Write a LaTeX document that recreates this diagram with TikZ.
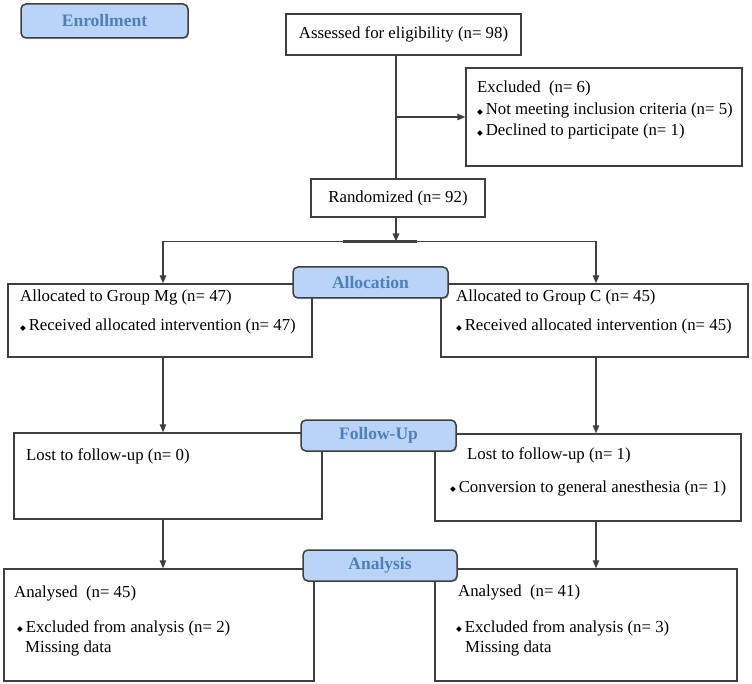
\documentclass[tikz,border=0pt]{standalone}
\usepackage{fontspec}
\setmainfont{Liberation Serif}
\newfontfamily\djv{DejaVu Sans}
\usetikzlibrary{arrows.meta,shadows}
\definecolor{lblfill}{HTML}{B9D4F7}
\definecolor{lbltext}{HTML}{4F7EBC}
\definecolor{edge}{HTML}{3F3F3F}
\newcommand\dmd{{\djv\fontsize{7.5}{7.5}\selectfont\raisebox{0.6pt}{◆}}\,}
\tikzset{
  box/.style={draw=edge, line width=1.4pt, fill=white, inner sep=0pt, font=\fontsize{16.8}{20}\selectfont,
    drop shadow={shadow xshift=1.2pt, shadow yshift=-1.2pt, opacity=0.35}},
  lbl/.style={draw=edge, line width=1.5pt, fill=lblfill, rounded corners=5pt, inner sep=0pt, font=\fontsize{17.5}{17.5}\selectfont\bfseries, text=lbltext,
    drop shadow={shadow xshift=1.2pt, shadow yshift=-1.2pt, opacity=0.35}},
  txt/.style={anchor=base west, inner sep=0pt, font=\fontsize{16.8}{20}\selectfont},
  conn/.style={draw=edge, line width=1.3pt},
  arr/.style={conn, -{Triangle[length=8pt,width=6.5pt]}}
}
\begin{document}
\begin{tikzpicture}[x=1pt,y=-1pt]
\useasboundingbox (0,0) rectangle (752,684);
\clip (0,0) rectangle (752,684);
% boxes
\node[box, minimum width=235pt, minimum height=41pt] (assess) at (403.5,34.5) {Assessed for eligibility (n= 98)};
\node[box, minimum width=276pt, minimum height=98pt] (excl) at (604,117) {};
\node[box, minimum width=174pt, minimum height=38pt] (rand) at (398,198) {Randomized (n= 92)};
\node[box, minimum width=304pt, minimum height=73pt] (mg) at (160,320.5) {};
\node[box, minimum width=307pt, minimum height=73pt] (cg) at (594.5,320.5) {};
\node[box, minimum width=308pt, minimum height=86pt] (ful) at (168,476) {};
\node[box, minimum width=306pt, minimum height=87pt] (fur) at (588,477.5) {};
\node[box, minimum width=310pt, minimum height=112pt] (anl) at (159,625) {};
\node[box, minimum width=302pt, minimum height=112pt] (anr) at (586,625) {};
% texts
\node[txt] (t1) at (477,93) {Excluded\ \ (n= 6)};
\node[txt] (t2) at (477,115) {\dmd Not meeting inclusion criteria (n= 5)};
\node[txt] (t3) at (477,136) {\dmd Declined to participate (n= 1)};
\node[txt] (t4) at (20,302) {Allocated to Group Mg (n= 47)};
\node[txt] (t5) at (20,331) {\dmd Received allocated intervention (n= 47)};
\node[txt] (t6) at (456,302) {Allocated to Group C (n= 45)};
\node[txt] (t7) at (456,331) {\dmd Received allocated intervention (n= 45)};
\node[txt] (t8) at (26,460) {Lost to follow-up (n= 0)};
\node[txt] (t9) at (467,459) {Lost to follow-up (n= 1)};
\node[txt] (t10) at (450,492) {\dmd Conversion to general anesthesia (n= 1)};
\node[txt] (t11) at (14,597) {Analysed\ \ (n= 45)};
\node[txt] (t12) at (17,632) {\dmd Excluded from analysis (n= 2)};
\node[txt] (t13) at (25,652) {Missing data};
\node[txt] (t14) at (458,596) {Analysed\ \ (n= 41)};
\node[txt] (t15) at (456,632) {\dmd Excluded from analysis (n= 3)};
\node[txt] (t16) at (465,652) {Missing data};
% connectors
\coordinate (br) at (396,117);
\coordinate (split) at (396,241.5);
\coordinate (sl) at (163,241.5);
\coordinate (sr) at (596,241.5);
\coordinate (thA) at (343,241.5);
\coordinate (thB) at (417,241.5);
\draw[conn] (assess.south -| br) -- (rand.north -| br);
\draw[arr] (br) -- (br -| excl.west);
\draw[conn] (sl) -- (sr);
\draw[conn, line width=2.1pt] (thA) -- (thB);
\draw[arr] (rand.south -| split) -- (split);
\draw[arr] (sl) -- (sl |- mg.north);
\draw[arr] (sr) -- (sr |- cg.north);
\draw[arr] (mg.south -| sl) -- (sl |- ful.north);
\draw[arr] (cg.south -| sr) -- (sr |- fur.north);
\draw[arr] (ful.south -| sl) -- (sl |- anl.north);
\draw[arr] (fur.south -| sr) -- (sr |- anr.north);
% stage labels
\node[lbl, minimum width=167pt, minimum height=34pt] (enroll) at (104.5,21) {Enrollment};
\node[lbl, minimum width=155pt, minimum height=31pt] (alloc) at (370.5,282.5) {Allocation};
\node[lbl, minimum width=155pt, minimum height=31pt] (follow) at (378.5,435.5) {Follow-Up};
\node[lbl, minimum width=154pt, minimum height=31pt] (analysis) at (380,565.5) {Analysis};
\end{tikzpicture}
\end{document}
